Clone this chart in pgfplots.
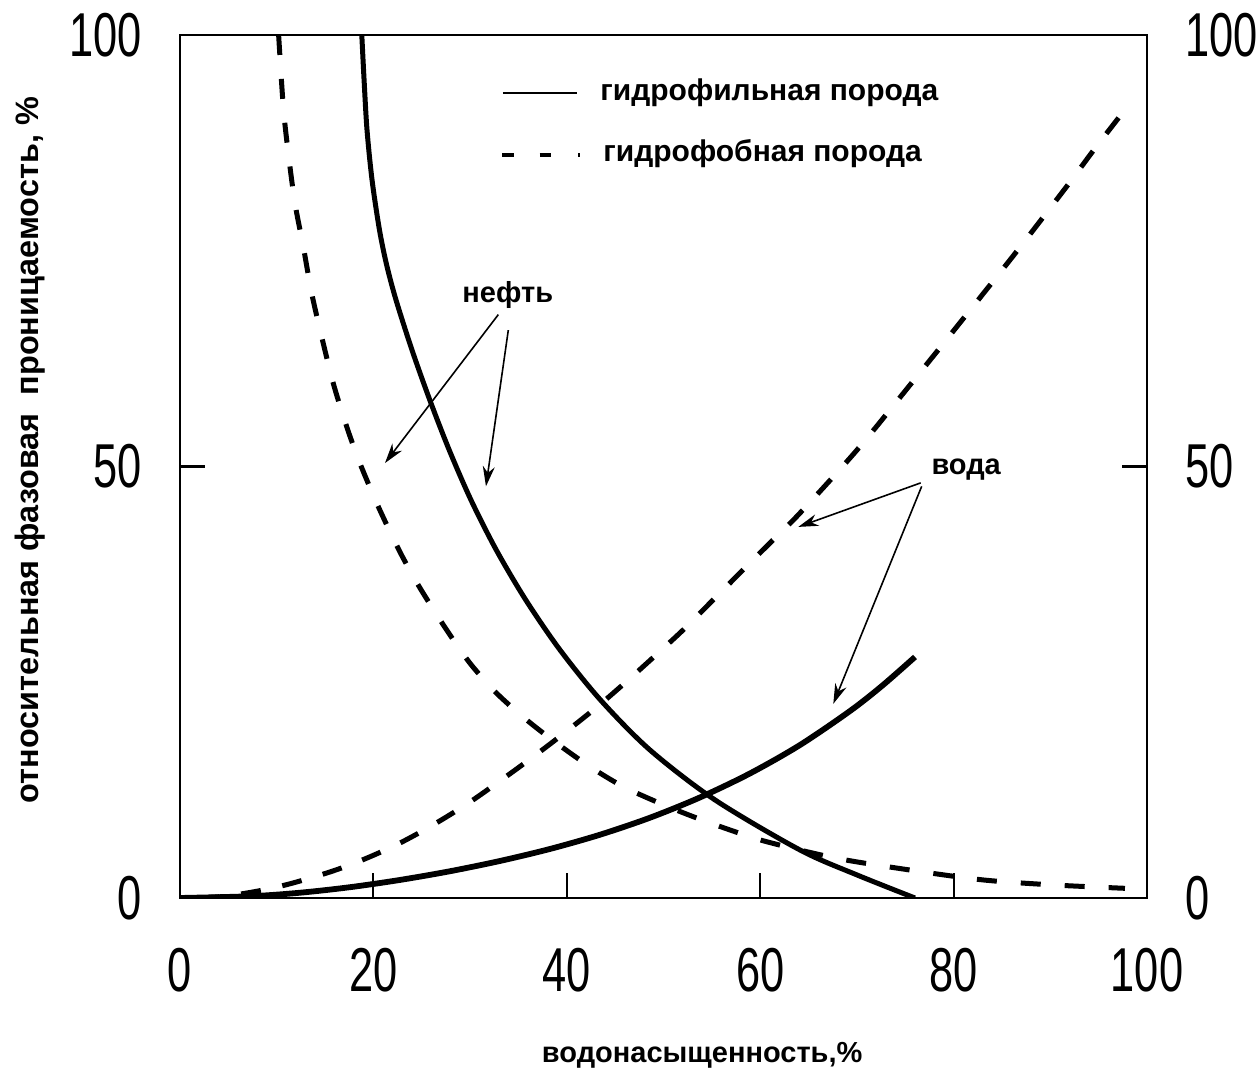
\documentclass[border=0pt]{standalone}
\usepackage{pgfplots}
\pgfplotsset{compat=1.18}
\usepackage{fontspec}
\setmainfont{Liberation Sans}
\newfontfamily\tickfont[FakeStretch=0.7]{Liberation Sans}
\usetikzlibrary{arrows.meta}
\begin{document}
\begin{tikzpicture}
\begin{axis}[
  scale only axis, width=483.5pt, height=431.5pt,
  xmin=0, xmax=100, ymin=0, ymax=100,
  axis line style={line width=1.3pt},
  xtick={0,20,40,60,80,100}, ytick={0,50,100},
  xtick pos=left, ytick pos=both, tick align=inside,
  major tick length=12.5pt,
  xtick style={line width=0.9pt, black},
  ytick style={line width=1.3pt, black},
  /pgf/number format/assume math mode=true,
  ticklabel style={font=\tickfont\fontsize{31}{31}\selectfont, inner sep=0pt},
  yticklabel style={anchor=east, xshift=-19pt},
  xticklabel style={anchor=north, yshift=-25pt},
  xlabel={водонасыщенность,\%},
  xlabel style={at={(axis description cs:0.54,-0.182)}, anchor=center, font=\bfseries\fontsize{14.5}{16}\selectfont},
  ylabel={относительная фазовая \ проницаемость, \%},
  ylabel style={at={(axis description cs:-0.155,0.519)}, anchor=center, font=\bfseries\fontsize{16.2}{18}\selectfont},
]
\coordinate (bbsw) at (rel axis cs:0,0);
\coordinate (bbne) at (rel axis cs:1,1);
% oil, hydrophilic rock (solid)
\addplot[black, line width=2.5pt, smooth] coordinates {
(18.8,100) (19.05,94.5) (19.34,88.99) (19.86,83.20) (20.63,77.40) (21.37,73.35) (22.34,69.29)
(23.99,63.50) (25.83,57.71) (27.84,51.91) (30.09,46.12) (32.71,40.32) (35.76,34.53)
(39.30,28.74) (43.49,22.94) (48.60,17.15) (55.33,11.36) (64.12,5.56) (70.01,2.67) (76.0,0)};
% water, hydrophilic rock (solid)
\addplot[black, line width=2.9pt, smooth] coordinates {
(0,0) (7.24,0.20) (12.41,0.61) (17.58,1.25) (22.75,2.09) (27.92,3.10) (33.09,4.29)
(38.26,5.68) (43.43,7.33) (48.60,9.30) (53.77,11.65) (58.94,14.43) (64.12,17.73)
(69.29,21.67) (72.6,24.58) (76.01,27.93)};
% oil, hydrophobic rock (dashed)
\addplot[black, line width=2.5pt, smooth, dash pattern=on 10pt off 12pt] coordinates {
(10.2,100) (10.68,91.69) (11.20,86.29) (11.89,80.50) (12.75,75.47) (13.62,70.07)
(14.65,65.04) (15.85,59.64) (17.24,54.61) (18.61,50.37) (20.51,45.34) (22.75,40.09)
(24.82,35.92) (27.58,31.05) (29.99,27.20) (32.75,23.72) (35.85,20.63) (38.96,17.93)
(42.40,15.21) (45.84,12.90) (49.64,10.97) (53.08,9.42) (56.88,7.88) (60.67,6.52)
(67.91,4.60) (75.49,3.24) (83.07,2.09) (90.31,1.51) (97.72,1.12)};
% water, hydrophobic rock (dashed)
\addplot[black, line width=2.5pt, smooth, dash pattern=on 10pt off 11pt] coordinates {
(2,0) (5,0.25) (8.5,0.9) (11.69,1.74) (15.82,3.13) (19.34,4.63) (22.75,6.37) (26.16,8.46)
(29.68,10.89) (33.09,13.56) (36.50,16.34) (39.61,19.00) (43.12,22.13) (46.23,25.14)
(49.33,28.27) (52.02,31.05) (55.12,34.53) (58.22,38.01) (61.32,41.48) (64.12,44.61)
(70.01,51.91) (75.49,59.44) (80.97,67.09) (86.56,74.97) (91.73,82.50) (94.42,86.56)
(97.21,90.61)};
% legend
\draw[line width=1.3pt] (axis cs:33.4,93.3) -- (axis cs:41.05,93.3);
\draw[line width=1.6pt] (axis cs:33.3,86.1) -- (axis cs:34.54,86.1);
\draw[line width=1.6pt] (axis cs:37.2,86.1) -- (axis cs:38.4,86.1);
\draw[line width=1.6pt] (axis cs:41.2,86.1) -- (axis cs:41.4,86.1);
\node[anchor=west, inner sep=0pt, font=\bfseries\fontsize{15}{17}\selectfont] at (axis cs:43.43,93.3) {гидрофильная порода};
\node[anchor=west, inner sep=0pt, font=\bfseries\fontsize{15}{17}\selectfont] at (axis cs:43.74,86.3) {гидрофобная порода};
% annotations
\node[font=\bfseries\fontsize{14.5}{16}\selectfont] at (axis cs:33.9,69.9) {нефть};
\node[font=\bfseries\fontsize{14.5}{16}\selectfont] at (axis cs:81.3,49.6) {вода};
\draw[line width=0.8pt, -{Stealth[length=10pt, width=6pt]}] (axis cs:32.92,67.6) -- (axis cs:21.2,50.4);
\draw[line width=0.8pt, -{Stealth[length=10pt, width=6pt]}] (axis cs:33.95,65.8) -- (axis cs:31.64,47.7);
\draw[line width=0.8pt, -{Stealth[length=10pt, width=6pt]}] (axis cs:76.6,48.1) -- (axis cs:63.94,43.0);
\draw[line width=0.8pt, -{Stealth[length=10pt, width=6pt]}] (axis cs:76.7,47.7) -- (axis cs:67.56,22.5);
\end{axis}
\begin{axis}[
  scale only axis, width=483.5pt, height=431.5pt,
  xmin=0, xmax=100, ymin=0, ymax=100,
  hide x axis, axis y line*=right,
  y axis line style={draw=none},
  ytick={0,50,100}, ytick style={draw=none},
  /pgf/number format/assume math mode=true,
  yticklabel style={font=\tickfont\fontsize{31}{31}\selectfont, inner sep=0pt, anchor=west, xshift=19pt},
]
\addplot[draw=none] coordinates {(0,0) (100,100)};
\end{axis}
\pgfresetboundingbox
\path[use as bounding box] ([shift={(-90pt,-85pt)}]bbsw) rectangle ([shift={(56.5pt,17.5pt)}]bbne);
\end{tikzpicture}
\end{document}
